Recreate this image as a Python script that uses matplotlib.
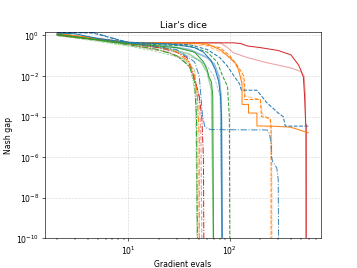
import matplotlib
matplotlib.use('Agg')
import matplotlib.pyplot as plt

# ---- Curves (x = gradient evals, y = Nash gap) ----
red_solid_x = [2, 3, 5, 10, 20, 40, 70, 108, 127, 150, 200, 300, 400, 473, 500, 530, 545, 555, 560, 566, 566]
red_solid_y = [1.1, 0.9, 0.65, 0.45, 0.43, 0.43, 0.43, 0.43, 0.4, 0.3, 0.25, 0.18, 0.11, 0.036, 0.02, 0.009, 1e-3, 1e-4, 4e-5, 4e-5, 1e-10]

red_light_x = [2, 5, 10, 30, 60, 81, 95, 108, 150, 233, 398, 495, 540, 555, 560]
red_light_y = [1.1, 0.6, 0.45, 0.43, 0.43, 0.43, 0.25, 0.14, 0.08, 0.045, 0.025, 0.017, 0.01, 1e-3, 1e-10]

red_dashdot_x = [2, 4, 10, 20, 30, 38, 42, 46, 50, 53, 55, 55.5]
red_dashdot_y = [1.1, 0.8, 0.4, 0.25, 0.15, 0.08, 0.02, 5e-3, 1e-3, 1e-4, 1e-6, 1e-10]

red_light_dash_x = [2, 5, 10, 25, 35, 42, 46, 50, 52, 53]
red_light_dash_y = [1.0, 0.6, 0.35, 0.15, 0.06, 0.02, 5e-3, 1e-3, 1e-5, 1e-10]

orange_solid_x = [2, 4, 10, 30, 60, 80, 100, 115, 122, 132, 132, 153, 153, 185, 185, 300, 400, 593]
orange_solid_y = [1.2, 0.8, 0.45, 0.42, 0.38, 0.2, 0.08, 0.04, 0.02, 4e-3, 4e-4, 4e-4, 1.5e-4, 1.5e-4, 3.5e-5, 3.3e-5, 3e-5, 1.6e-5]

orange_dash_x = [2, 10, 50, 80, 100, 120, 135, 140, 140, 200, 205, 250, 255, 255]
orange_dash_y = [1.2, 0.45, 0.4, 0.25, 0.1, 0.03, 0.012, 5e-3, 7e-4, 7e-4, 1e-4, 8e-5, 3e-5, 1e-10]

orange_light_dash_x = [2, 5, 10, 30, 60, 90, 110, 125, 135, 142, 200, 210, 250, 258, 260]
orange_light_dash_y = [1.1, 0.6, 0.42, 0.38, 0.3, 0.12, 0.05, 0.015, 6e-3, 1e-3, 7e-4, 1.2e-4, 8e-5, 1e-5, 1e-10]

orange_dashdot_x = [2, 4, 10, 20, 30, 40, 45, 48, 50, 50]
orange_dashdot_y = [1.2, 0.8, 0.4, 0.3, 0.15, 0.05, 0.01, 1e-3, 1e-5, 1e-10]

orange_light_dashdot_x = [2, 5, 10, 20, 35, 45, 48, 50]
orange_light_dashdot_y = [1.0, 0.6, 0.35, 0.2, 0.08, 0.02, 1e-3, 1e-10]

blue_solid_x = [2, 3, 5, 10, 20, 30, 45, 55, 65, 72, 78, 81, 83, 84]
blue_solid_y = [1.3, 1.2, 0.7, 0.45, 0.4, 0.35, 0.25, 0.15, 0.06, 0.02, 5e-3, 1e-3, 1e-4, 1e-10]

blue_light_solid_x = [2, 5, 10, 20, 40, 60, 70, 78, 82, 84]
blue_light_solid_y = [1.2, 0.7, 0.45, 0.35, 0.2, 0.08, 0.04, 0.01, 1e-3, 1e-10]

blue_dash_x = [2, 4.5, 10, 40, 60, 80, 95, 110, 125, 130, 185, 230, 300, 336, 352, 600]
blue_dash_y = [1.4, 1.3, 0.45, 0.35, 0.2, 0.08, 0.03, 0.01, 4e-3, 2e-3, 2e-3, 5e-4, 1.5e-4, 1e-4, 3.4e-5, 3.4e-5]

blue_light_dash_x = [2, 5, 10, 20, 35, 50, 60, 70, 80, 84]
blue_light_dash_y = [1.1, 0.6, 0.4, 0.25, 0.12, 0.06, 0.03, 0.01, 1e-3, 1e-10]

blue_dashdot_x = [2, 4.5, 10, 30, 45, 50, 52, 54, 57, 65, 233, 245, 255, 258, 265, 290, 300, 302]
blue_dashdot_y = [1.5, 1.4, 0.45, 0.2, 0.05, 0.01, 1e-3, 1e-4, 3e-5, 2.3e-5, 2.2e-5, 1.5e-5, 5e-6, 1e-6, 6e-7, 3e-7, 8e-8, 1e-10]

green_solid_x = [2, 4, 10, 30, 45, 55, 60, 62, 66, 68, 69]
green_solid_y = [1.1, 0.7, 0.4, 0.25, 0.15, 0.05, 0.02, 0.01, 5e-3, 1e-3, 1e-10]

green_light_solid_x = [2, 5, 10, 25, 40, 52, 60, 66, 69]
green_light_solid_y = [1.0, 0.6, 0.38, 0.22, 0.12, 0.05, 0.015, 2e-3, 1e-10]

green_dash_x = [2, 4, 10, 40, 60, 75, 85, 95, 99, 100]
green_dash_y = [1.1, 0.7, 0.4, 0.3, 0.15, 0.05, 0.01, 3e-3, 1e-4, 1e-10]

green_dashdot_x = [2, 4, 10, 20, 30, 40, 45, 47, 48]
green_dashdot_y = [1.1, 0.7, 0.35, 0.2, 0.1, 0.03, 5e-3, 1e-4, 1e-10]

green_light_dash_x = [2, 5, 10, 20, 35, 45, 47, 48]
green_light_dash_y = [1.0, 0.5, 0.3, 0.15, 0.07, 0.02, 1e-3, 1e-10]

green_light_dashdot_x = [2, 5, 10, 20, 30, 40, 46, 47.5]
green_light_dashdot_y = [1.0, 0.55, 0.32, 0.18, 0.1, 0.05, 1e-3, 1e-10]


curves = [
    (green_light_dash_x, green_light_dash_y, 'C2', '--', 1.0, 0.45),
    (green_light_dashdot_x, green_light_dashdot_y, 'C2', '-.', 1.0, 0.45),
    (green_light_solid_x, green_light_solid_y, 'C2', '-', 2.0, 0.45),
    (orange_light_dashdot_x, orange_light_dashdot_y, 'C1', '-.', 1.0, 0.45),
    (orange_light_dash_x, orange_light_dash_y, 'C1', '--', 1.5, 0.45),
    (blue_light_dash_x, blue_light_dash_y, 'C0', '--', 1.0, 0.45),
    (blue_light_solid_x, blue_light_solid_y, 'C0', '-', 2.5, 0.45),
    (red_light_dash_x, red_light_dash_y, 'C3', '--', 1.5, 0.45),
    (red_light_x, red_light_y, 'C3', '-', 1.3, 0.45),
    (red_solid_x, red_solid_y, 'C3', '-', 1.3, 1.0),
    (red_dashdot_x, red_dashdot_y, 'C3', '-.', 1.3, 1.0),
    (orange_solid_x, orange_solid_y, 'C1', '-', 1.3, 1.0),
    (orange_dash_x, orange_dash_y, 'C1', '--', 1.3, 1.0),
    (orange_dashdot_x, orange_dashdot_y, 'C1', '-.', 1.3, 1.0),
    (green_solid_x, green_solid_y, 'C2', '-', 1.3, 1.0),
    (green_dash_x, green_dash_y, 'C2', '--', 1.3, 1.0),
    (green_dashdot_x, green_dashdot_y, 'C2', '-.', 1.3, 1.0),
    (blue_solid_x, blue_solid_y, 'C0', '-', 1.3, 1.0),
    (blue_dash_x, blue_dash_y, 'C0', '--', 1.3, 1.0),
    (blue_dashdot_x, blue_dashdot_y, 'C0', '-.', 1.3, 0.85),
]

fig, ax = plt.subplots(figsize=(6.4, 4.81), dpi=55.8)

for xs, ys, color, ls, lw, alpha in curves:
    ax.plot(xs, ys, color=color, linestyle=ls, linewidth=lw, alpha=alpha)

ax.set_xscale('log')
ax.set_yscale('log')
ax.set_ylim(1e-10, 1.5)
ax.grid(True, which='major', linestyle='--', alpha=0.5)
ax.set_title("Liar's dice")
ax.set_xlabel('Gradient evals')
ax.set_ylabel('Nash gap')

plt.savefig('out.png', dpi=55.8)
